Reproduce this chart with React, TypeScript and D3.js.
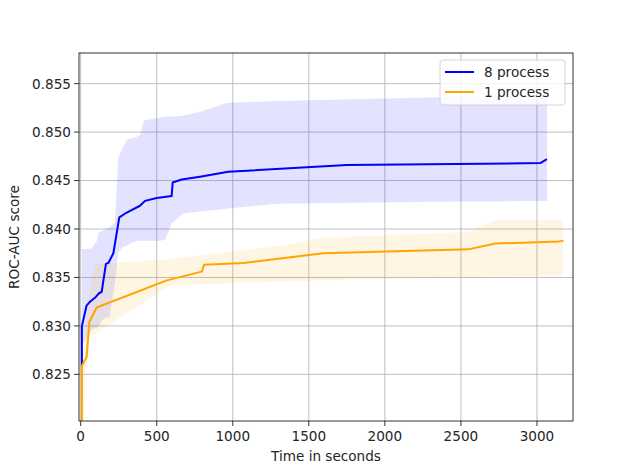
import React from "react";
import * as d3 from "d3";

// 8 process mean line
const blueX = [8, 8, 39, 61, 94, 122, 138, 166, 182, 215, 254, 303, 390, 423, 500, 598, 605, 664, 785, 971, 1750, 3022, 3066];
const blueY = [0.8258, 0.8300, 0.8321, 0.8325, 0.8329, 0.8334, 0.8335, 0.8364, 0.8365, 0.8375, 0.8412, 0.8417, 0.8424, 0.8429, 0.8432, 0.8434, 0.8448, 0.8451, 0.8454, 0.8459, 0.8466, 0.8468, 0.8472];
// 8 process band
const blueBandX = [8, 72, 105, 116, 140, 171, 190, 226, 247, 265, 303, 368, 390, 416, 522, 555, 599, 675, 785, 960, 1289, 2364, 3066];
const blueHi = [0.8379, 0.8380, 0.8387, 0.8396, 0.8398, 0.8400, 0.8402, 0.8407, 0.8473, 0.8480, 0.8492, 0.8495, 0.8497, 0.8512, 0.8515, 0.8516, 0.8516, 0.8517, 0.8521, 0.8530, 0.8532, 0.8536, 0.8537];
const blueLo = [0.8280, 0.8296, 0.8298, 0.8299, 0.8306, 0.8309, 0.8309, 0.8345, 0.8375, 0.8380, 0.8383, 0.8388, 0.8388, 0.8388, 0.8388, 0.8389, 0.8406, 0.8416, 0.8418, 0.8421, 0.8426, 0.8428, 0.8429];

// 1 process mean line
const orangeX = [8, 8, 11, 39, 57, 105, 566, 796, 811, 1070, 1596, 2550, 2726, 3142, 3175];
const orangeY = [0.8120, 0.8258, 0.8260, 0.8268, 0.8304, 0.8319, 0.8347, 0.8356, 0.8363, 0.8365, 0.8375, 0.8379, 0.8385, 0.8387, 0.8388];
// 1 process band
const orangeBandX = [8, 28, 62, 94, 105, 588, 697, 785, 1180, 1399, 1585, 2550, 2726, 3171];
const orangeHi = [0.8265, 0.8293, 0.8337, 0.8364, 0.8364, 0.8369, 0.8371, 0.8373, 0.8380, 0.8385, 0.8391, 0.8397, 0.8409, 0.8409];
const orangeLo = [0.8100, 0.8250, 0.8289, 0.8292, 0.8293, 0.8342, 0.8342, 0.8343, 0.8345, 0.8346, 0.8347, 0.8350, 0.8351, 0.8352];

const xTicks = [0, 500, 1000, 1500, 2000, 2500, 3000];
const yTicks = [0.825, 0.83, 0.835, 0.84, 0.845, 0.85, 0.855];
const legendLabels = ["8 process", "1 process"];

const W = 628, H = 472;
const L = 79, R = 573, T = 53, B = 421;
const FONT = "DejaVu Sans, sans-serif";
const FS = 13.6;

export default function App() {
  const x = d3.scaleLinear().domain([-11, 3237]).range([L, R]);
  const y = d3.scaleLinear().domain([0.82019, 0.85816]).range([B, T]);

  const line = d3.line<[number, number]>().x(d => x(d[0])).y(d => y(d[1]));

  const mkArea = (xs: number[], lo: number[], hi: number[]) =>
    d3.area<number>()
      .x((_, i) => x(xs[i]))
      .y0((_, i) => y(lo[i]))
      .y1((_, i) => y(hi[i]))(xs) || "";

  const bluePts = blueX.map((v, i) => [v, blueY[i]] as [number, number]);
  const orangePts = orangeX.map((v, i) => [v, orangeY[i]] as [number, number]);

  const colors = ["#0000ff", "#ffa500"];

  return (
    <svg width={W} height={H} style={{ position: "absolute", left: 0, top: 0, background: "#fff" }} fontFamily={FONT}>
      <defs>
        <clipPath id="clip">
          <rect x={L} y={T} width={R - L} height={B - T} />
        </clipPath>
      </defs>
      <rect x={0} y={0} width={W} height={H} fill="#fff" />
      {xTicks.map(t => (
        <line key={"gx" + t} x1={x(t)} x2={x(t)} y1={T} y2={B} stroke="#b0b0b0" strokeWidth={0.8} />
      ))}
      {yTicks.map(t => (
        <line key={"gy" + t} x1={L} x2={R} y1={y(t)} y2={y(t)} stroke="#b0b0b0" strokeWidth={0.8} />
      ))}
      <g clipPath="url(#clip)">
        <path d={mkArea(blueBandX, blueLo, blueHi)} fill="#0000ff" fillOpacity={0.11} />
        <path d={mkArea(orangeBandX, orangeLo, orangeHi)} fill="#ffa500" fillOpacity={0.11} />
        <path d={line(bluePts) || ""} fill="none" stroke={colors[0]} strokeWidth={2} strokeLinejoin="round" />
        <path d={line(orangePts) || ""} fill="none" stroke={colors[1]} strokeWidth={2} strokeLinejoin="round" />
      </g>
      <rect x={L} y={T} width={R - L} height={B - T} fill="none" stroke="#000" strokeWidth={0.8} />
      {xTicks.map(t => (
        <g key={"xt" + t}>
          <line x1={x(t)} x2={x(t)} y1={B} y2={B + 5} stroke="#000" strokeWidth={0.8} />
          <text x={x(t)} y={B + 20} textAnchor="middle" fontSize={FS} fill="#262626">{String(t)}</text>
        </g>
      ))}
      {yTicks.map(t => (
        <g key={"yt" + t}>
          <line x1={L - 5} x2={L} y1={y(t)} y2={y(t)} stroke="#000" strokeWidth={0.8} />
          <text x={L - 8} y={y(t)} dy="0.36em" textAnchor="end" fontSize={FS} fill="#262626">{d3.format(".3f")(t)}</text>
        </g>
      ))}
      <text x={(L + R) / 2} y={461} textAnchor="middle" fontSize={FS} fill="#262626">Time in seconds</text>
      <text transform={`translate(19,${(T + B) / 2}) rotate(-90)`} textAnchor="middle" fontSize={FS} fill="#262626">ROC-AUC score</text>
      <rect x={440} y={60} width={125} height={45} rx={3} fill="#fff" fillOpacity={0.8} stroke="#cccccc" strokeWidth={0.8} />
      {legendLabels.map((lab, i) => (
        <g key={lab}>
          <line x1={445} x2={474} y1={72 + i * 20} y2={72 + i * 20} stroke={colors[i]} strokeWidth={2} />
          <text x={484} y={72 + i * 20} dy="0.36em" fontSize={FS} fill="#262626">{lab}</text>
        </g>
      ))}
    </svg>
  );
}
